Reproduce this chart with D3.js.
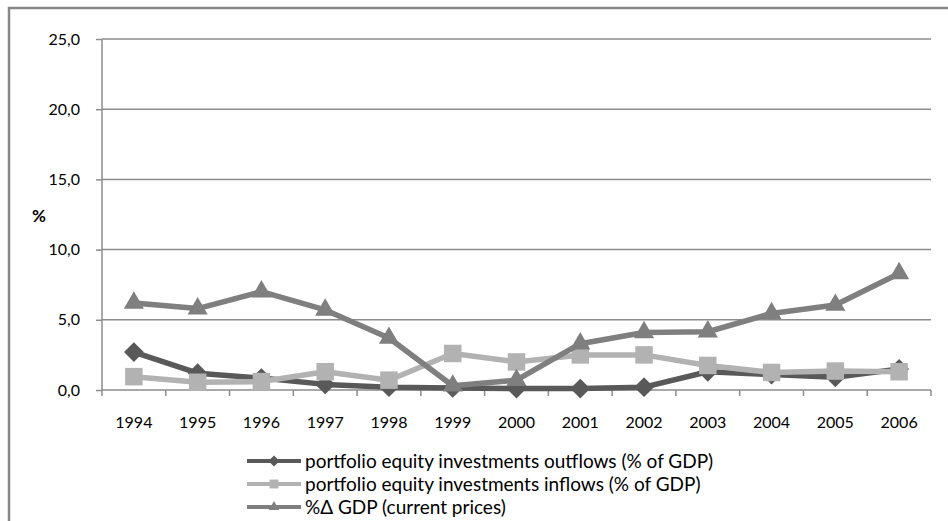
<!doctype html>
<html lang="en">
<head>
	<meta charset="utf-8">
	<title>Portfolio equity investments</title>
	<script type="text/javascript" src="https://d3js.org/d3.v7.min.js"></script>
	<style>
		body { margin: 0; background: #fff; }
		text { font-family: Lato, "Open Sans", sans-serif; fill: #000; }
	</style>
</head>
<body>
	<script type="text/javascript">
		var width = 948;
		var height = 521;

		// data
		var years = ["1994","1995","1996","1997","1998","1999","2000","2001","2002","2003","2004","2005","2006"];
		var outflows = [2.7, 1.2, 0.85, 0.4, 0.2, 0.15, 0.1, 0.1, 0.2, 1.3, 1.1, 0.9, 1.5];
		var inflows = [0.95, 0.55, 0.6, 1.3, 0.7, 2.6, 2.0, 2.5, 2.5, 1.75, 1.25, 1.35, 1.3];
		var gdp = [6.2, 5.8, 7.0, 5.7, 3.7, 0.3, 0.7, 3.3, 4.1, 4.15, 5.45, 6.05, 8.3];
		var yTicks = [0, 5, 10, 15, 20, 25];
		var seriesNames = ["portfolio equity investments outflows (% of GDP)", "portfolio equity investments inflows (% of GDP)", "%\u0394 GDP (current prices)"];

		var series = [
			{name: seriesNames[0], values: outflows, color: "#595959", shape: d3.symbolDiamond2},
			{name: seriesNames[1], values: inflows, color: "#b2b2b2", shape: d3.symbolSquare2},
			{name: seriesNames[2], values: gdp, color: "#7f7f7f", shape: d3.symbolTriangle2}
		];

		var margin = {left: 102, right: 17, top: 39, bottom: 131};

		var svg = d3.select("body")
			.append("svg")
			.attr("width", width)
			.attr("height", height);

		// outer frame (runs off the right and bottom edge)
		svg.append("path")
			.attr("d", "M9," + (height + 5) + "V8H" + (width + 5))
			.attr("fill", "none")
			.attr("stroke", "#878787")
			.attr("stroke-width", 2.5);

		var x = d3.scaleBand()
			.domain(years)
			.range([margin.left, width - margin.right]);

		var y = d3.scaleLinear()
			.domain([0, 25])
			.range([height - margin.bottom, margin.top]);

		// gridlines
		svg.append("g")
			.selectAll("line")
			.data(yTicks.slice(1))
			.enter()
			.append("line")
			.attr("x1", margin.left)
			.attr("x2", width - margin.right)
			.attr("y1", function(d) { return y(d); })
			.attr("y2", function(d) { return y(d); })
			.attr("stroke", "#8c8c8c")
			.attr("stroke-width", 1.5);

		// y axis
		var yAxis = svg.append("g")
			.attr("transform", "translate(" + margin.left + ",0)")
			.call(d3.axisLeft(y).tickValues(yTicks).tickSize(6).tickPadding(16)
				.tickFormat(function(d) { return d3.format(".1f")(d).replace(".", ","); }));
		yAxis.selectAll("line, path").attr("stroke", "#8c8c8c").attr("stroke-width", 1.5);
		yAxis.select("path").attr("d", "M0," + y(0) + "V" + y(25));
		yAxis.selectAll("text").style("font-size", "16px").attr("fill", "#000");

		// x axis, ticks on band edges
		var xAxis = svg.append("g")
			.attr("transform", "translate(0," + y(0) + ")");
		xAxis.append("line")
			.attr("x1", margin.left)
			.attr("x2", width - margin.right)
			.attr("stroke", "#8c8c8c")
			.attr("stroke-width", 1.5);
		xAxis.selectAll(".tk")
			.data(years.concat(["end"]))
			.enter()
			.append("line")
			.attr("class", "tk")
			.attr("x1", function(d, i) { return margin.left + i * x.bandwidth(); })
			.attr("x2", function(d, i) { return margin.left + i * x.bandwidth(); })
			.attr("y1", 0)
			.attr("y2", 6)
			.attr("stroke", "#8c8c8c")
			.attr("stroke-width", 1.5);
		xAxis.selectAll(".lbl")
			.data(years)
			.enter()
			.append("text")
			.attr("class", "lbl")
			.attr("x", function(d) { return x(d) + x.bandwidth() / 2; })
			.attr("y", 38)
			.attr("text-anchor", "middle")
			.style("font-size", "16px")
			.text(function(d) { return d; });

		// axis title
		svg.append("text")
			.attr("x", 32)
			.attr("y", 222)
			.style("font-size", "17px")
			.style("font-weight", "bold")
			.text("%");

		var line = d3.line()
			.x(function(d, i) { return x(years[i]) + x.bandwidth() / 2; })
			.y(function(d) { return y(d); });

		series.forEach(function(s) {
			var g = svg.append("g");
			g.append("path")
				.datum(s.values)
				.attr("d", line)
				.attr("fill", "none")
				.attr("stroke", s.color)
				.attr("stroke-width", 5.5)
				.attr("stroke-linejoin", "round");
			g.selectAll("path.pt")
				.data(s.values)
				.enter()
				.append("path")
				.attr("class", "pt")
				.attr("d", d3.symbol().type(s.shape).size(s.shape === d3.symbolTriangle2 ? 290 : (s.shape === d3.symbolSquare2 ? 390 : 250)))
				.attr("transform", function(d, i) {
					return "translate(" + (x(years[i]) + x.bandwidth() / 2) + "," + y(d) + ")";
				})
				.attr("fill", s.color);
		});

		// legend
		var legend = svg.append("g")
			.selectAll("g")
			.data(series)
			.enter()
			.append("g")
			.attr("transform", function(d, i) { return "translate(247," + (461 + i * 23) + ")"; });

		legend.append("line")
			.attr("x1", 0)
			.attr("x2", 54)
			.attr("stroke", function(d) { return d.color; })
			.attr("stroke-width", 4);

		legend.append("path")
			.attr("d", function(d) { return d3.symbol().type(d.shape).size(d.shape === d3.symbolSquare2 ? 100 : 80)(); })
			.attr("transform", "translate(27,0)")
			.attr("fill", function(d) { return d.color; });

		legend.append("text")
			.attr("x", 58)
			.attr("dy", "0.35em")
			.style("font-size", "19px")
			.text(function(d) { return d.name; });
	</script>
</body>
</html>
